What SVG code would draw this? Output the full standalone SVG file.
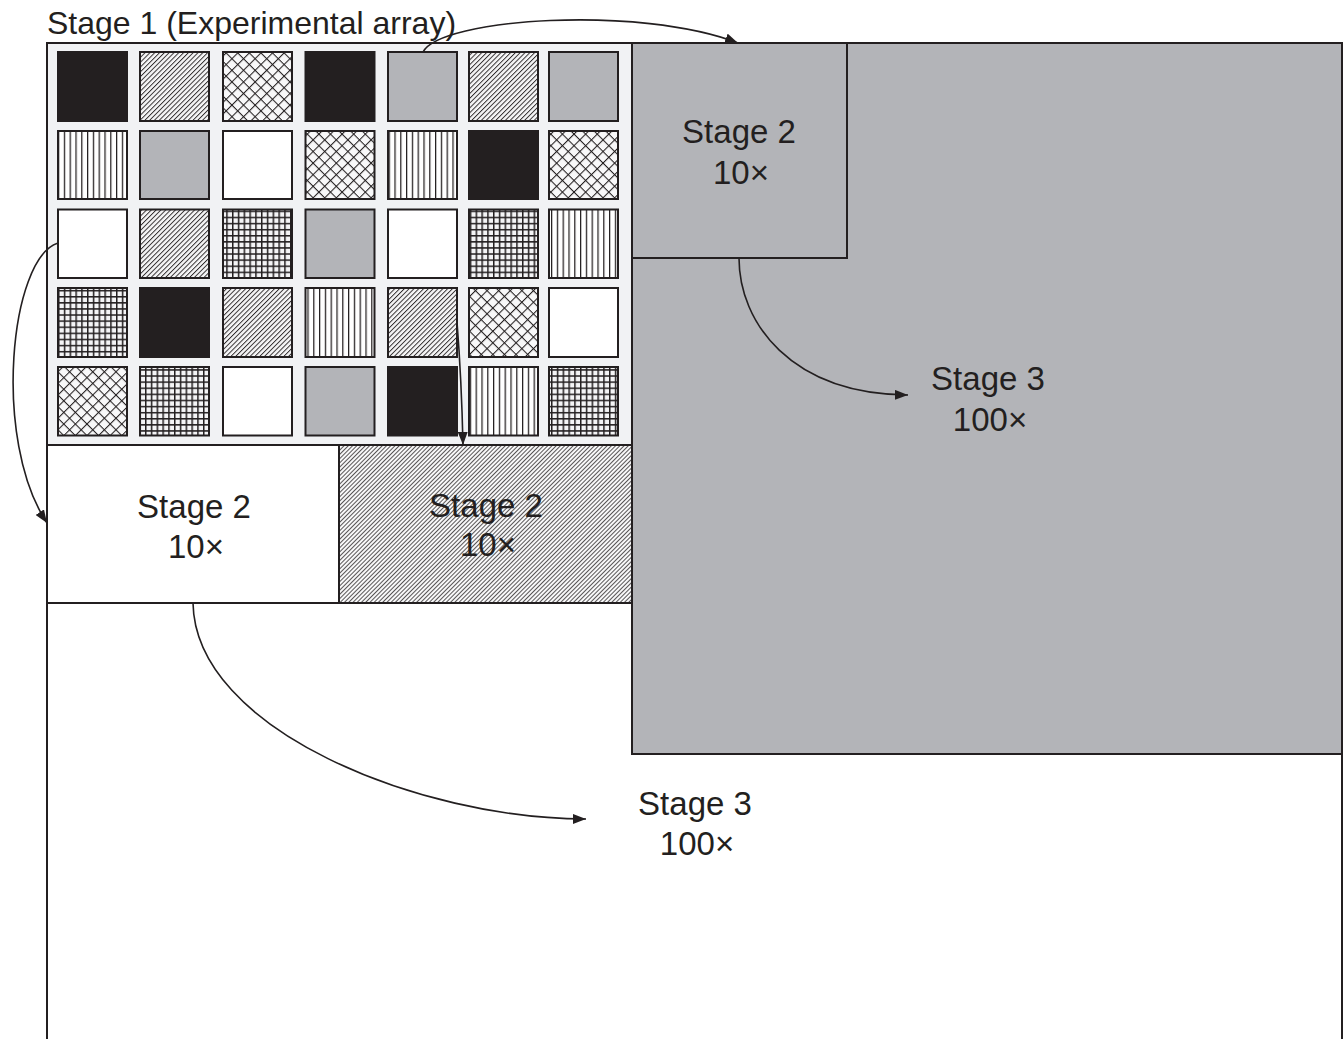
<svg xmlns="http://www.w3.org/2000/svg" width="1344" height="1039" viewBox="0 0 1344 1039">
<style>
.frame{stroke:#231f20;stroke-width:2}
.cell{stroke:#231f20;stroke-width:2}
.lbl{font-family:"Liberation Sans",Arial,sans-serif;font-size:33px;fill:#231f20;text-anchor:middle}
.title{font-family:"Liberation Sans",Arial,sans-serif;font-size:32px;fill:#231f20}
.conn{fill:none;stroke:#231f20;stroke-width:1.6}
</style>
<defs>
<marker id="ah" viewBox="0 0 13 10" refX="13" refY="5" markerWidth="13" markerHeight="10" markerUnits="userSpaceOnUse" orient="auto">
<path d="M0,0 L13,5 L0,10 Z" fill="#231f20"/>
</marker>
<pattern id="diag" width="3.4" height="3.4" patternUnits="userSpaceOnUse" patternTransform="rotate(45)">
<rect width="3.4" height="3.4" fill="#f6f6f7"/>
<line x1="0.5" y1="0" x2="0.5" y2="3.4" stroke="#231f20" stroke-width="0.9"/>
</pattern>
<pattern id="diag2" width="3" height="3" patternUnits="userSpaceOnUse" patternTransform="rotate(45)">
<rect width="3" height="3" fill="#f8f8f9"/>
<line x1="0.5" y1="0" x2="0.5" y2="3" stroke="#231f20" stroke-width="0.75"/>
</pattern>
<pattern id="xhatch" width="8.2" height="8.2" patternUnits="userSpaceOnUse" patternTransform="rotate(45)">
<rect width="8.2" height="8.2" fill="#f8f8f9"/>
<line x1="0" y1="0.5" x2="8.2" y2="0.5" stroke="#231f20" stroke-width="1.1"/>
<line x1="0.5" y1="0" x2="0.5" y2="8.2" stroke="#231f20" stroke-width="1.1"/>
</pattern>
<pattern id="grid" x="58" y="52" width="5.8" height="6.1" patternUnits="userSpaceOnUse">
<rect width="5.8" height="6.1" fill="#f4f4f6"/>
<line x1="0.75" y1="0" x2="0.75" y2="6.1" stroke="#231f20" stroke-width="1.5"/>
<line x1="0" y1="0.75" x2="5.8" y2="0.75" stroke="#231f20" stroke-width="1.5"/>
</pattern>
<pattern id="vert" x="58" y="0" width="5.8" height="10" patternUnits="userSpaceOnUse">
<rect width="5.8" height="10" fill="#ffffff"/>
<line x1="0.6" y1="0" x2="0.6" y2="10" stroke="#231f20" stroke-width="1.3"/>
</pattern>
</defs>

<g id="stage3-white">
<rect class="frame" x="47" y="43" width="1295" height="1030" fill="#ffffff"/>
<text class="lbl" x="695" y="815">Stage 3</text>
<text class="lbl" x="697" y="855">100×</text>
</g>

<g id="stage3-gray">
<rect class="frame" x="632" y="43" width="710" height="711" fill="#b3b4b8"/>
<text class="lbl" x="988" y="390">Stage 3</text>
<text class="lbl" x="990" y="431">100×</text>
</g>

<g id="stage2-gray">
<rect class="frame" x="632" y="43" width="215" height="215" fill="#b3b4b8"/>
<text class="lbl" x="739" y="143">Stage 2</text>
<text class="lbl" x="741" y="184">10×</text>
</g>

<g id="stage2-white">
<rect class="frame" x="47" y="445" width="292" height="158" fill="#ffffff"/>
<text class="lbl" x="194" y="518">Stage 2</text>
<text class="lbl" x="196" y="558">10×</text>
</g>

<g id="stage2-hatched">
<rect class="frame" x="339" y="445" width="293" height="158" fill="url(#diag2)"/>
<text class="lbl" x="486" y="517">Stage 2</text>
<text class="lbl" x="488" y="556">10×</text>
</g>

<g id="stage1">
<text class="title" x="47" y="34">Stage 1 (Experimental array)</text>
<rect class="frame" x="47" y="43" width="585" height="402" fill="#f1f2f4"/>
<!-- row 1 -->
<rect class="cell" x="58" y="52" width="69" height="69" fill="#231f20"/>
<rect class="cell" x="140" y="52" width="69" height="69" fill="url(#diag)"/>
<rect class="cell" x="223" y="52" width="69" height="69" fill="url(#xhatch)"/>
<rect class="cell" x="305.5" y="52" width="69" height="69" fill="#231f20"/>
<rect class="cell" x="388" y="52" width="69" height="69" fill="#b3b4b8"/>
<rect class="cell" x="469" y="52" width="69" height="69" fill="url(#diag)"/>
<rect class="cell" x="549" y="52" width="69" height="69" fill="#b3b4b8"/>
<!-- row 2 -->
<rect class="cell" x="58" y="131" width="69" height="68" fill="url(#vert)"/>
<rect class="cell" x="140" y="131" width="69" height="68" fill="#b3b4b8"/>
<rect class="cell" x="223" y="131" width="69" height="68" fill="#ffffff"/>
<rect class="cell" x="305.5" y="131" width="69" height="68" fill="url(#xhatch)"/>
<rect class="cell" x="388" y="131" width="69" height="68" fill="url(#vert)"/>
<rect class="cell" x="469" y="131" width="69" height="68" fill="#231f20"/>
<rect class="cell" x="549" y="131" width="69" height="68" fill="url(#xhatch)"/>
<!-- row 3 -->
<rect class="cell" x="58" y="209.5" width="69" height="68.5" fill="#ffffff"/>
<rect class="cell" x="140" y="209.5" width="69" height="68.5" fill="url(#diag)"/>
<rect class="cell" x="223" y="209.5" width="69" height="68.5" fill="url(#grid)"/>
<rect class="cell" x="305.5" y="209.5" width="69" height="68.5" fill="#b3b4b8"/>
<rect class="cell" x="388" y="209.5" width="69" height="68.5" fill="#ffffff"/>
<rect class="cell" x="469" y="209.5" width="69" height="68.5" fill="url(#grid)"/>
<rect class="cell" x="549" y="209.5" width="69" height="68.5" fill="url(#vert)"/>
<!-- row 4 -->
<rect class="cell" x="58" y="288" width="69" height="69" fill="url(#grid)"/>
<rect class="cell" x="140" y="288" width="69" height="69" fill="#231f20"/>
<rect class="cell" x="223" y="288" width="69" height="69" fill="url(#diag)"/>
<rect class="cell" x="305.5" y="288" width="69" height="69" fill="url(#vert)"/>
<rect class="cell" x="388" y="288" width="69" height="69" fill="url(#diag)"/>
<rect class="cell" x="469" y="288" width="69" height="69" fill="url(#xhatch)"/>
<rect class="cell" x="549" y="288" width="69" height="69" fill="#ffffff"/>
<!-- row 5 -->
<rect class="cell" x="58" y="367" width="69" height="68.5" fill="url(#xhatch)"/>
<rect class="cell" x="140" y="367" width="69" height="68.5" fill="url(#grid)"/>
<rect class="cell" x="223" y="367" width="69" height="68.5" fill="#ffffff"/>
<rect class="cell" x="305.5" y="367" width="69" height="68.5" fill="#b3b4b8"/>
<rect class="cell" x="388" y="367" width="69" height="68.5" fill="#231f20"/>
<rect class="cell" x="469" y="367" width="69" height="68.5" fill="url(#vert)"/>
<rect class="cell" x="549" y="367" width="69" height="68.5" fill="url(#grid)"/>
</g>

<g id="connectors">
<path class="conn" d="M423,52 C440,18 640,5 738,43" marker-end="url(#ah)"/>
<path class="conn" d="M58,243 C10,258 -8,440 47,523" marker-end="url(#ah)"/>
<path class="conn" d="M457,322 C460,360 462,400 463,445" marker-end="url(#ah)"/>
<path class="conn" d="M739,258 C739,322 790,394 908,395" marker-end="url(#ah)"/>
<path class="conn" d="M193,603 C195,730 420,819 586,819" marker-end="url(#ah)"/>
</g>
</svg>
